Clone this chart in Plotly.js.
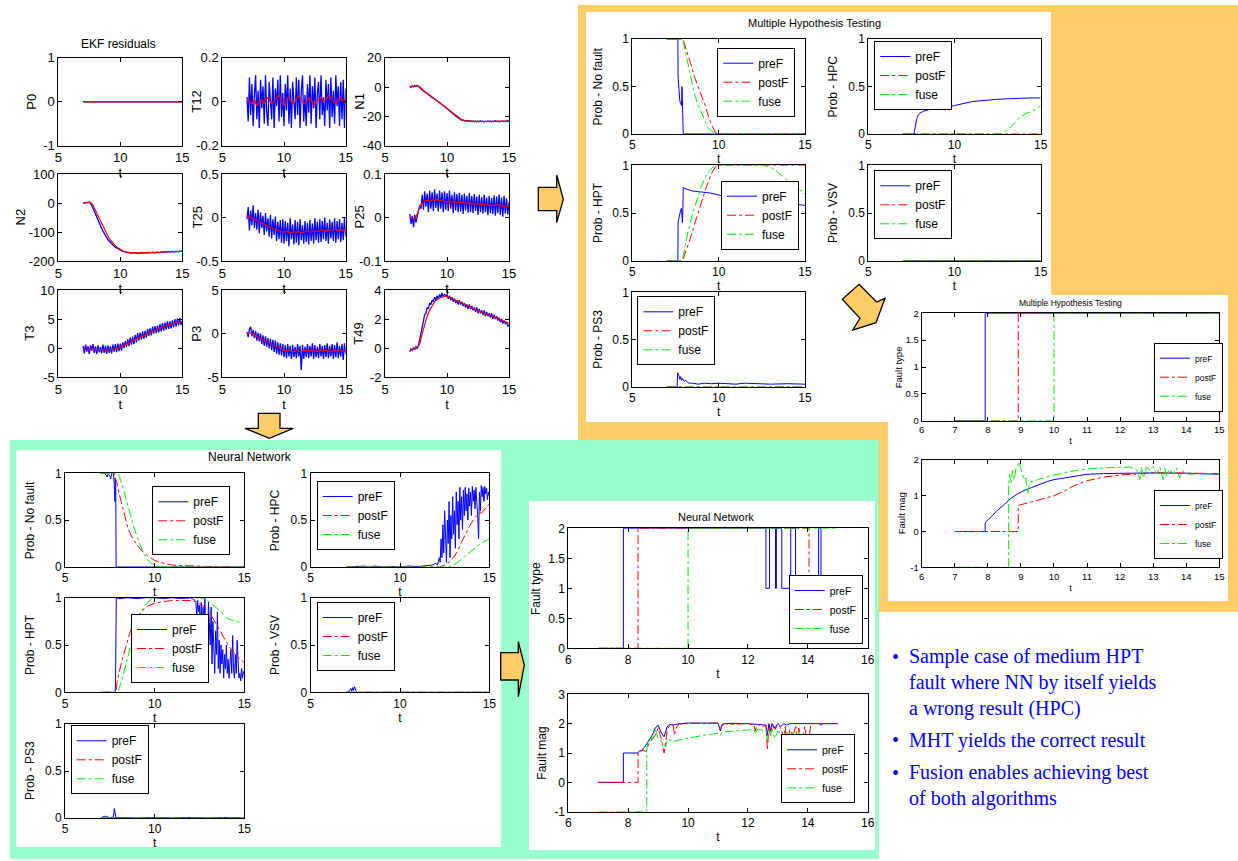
<!DOCTYPE html>
<html><head><meta charset="utf-8">
<script src="https://cdn.plot.ly/plotly-3.0.1.min.js"></script>
<style>html,body{margin:0;padding:0;background:#fff;}#chart{width:1238px;height:861px;}</style>
</head><body><div id="chart"></div>
<script>
// ---------------- DATA ----------------
// EKF residual time grids
const tE=[7,7.1,7.2,7.3,7.4,7.5,7.6,7.7,7.8,7.9,8,8.1,8.2,8.3,8.4,8.5,8.6,8.7,8.8,8.9,9,9.1,9.2,9.3,9.4,9.5,9.6,9.7,9.8,9.9,10,10.1,10.2,10.3,10.4,10.5,10.6,10.7,10.8,10.9,11,11.1,11.2,11.3,11.4,11.5,11.6,11.7,11.8,11.9,12,12.1,12.2,12.3,12.4,12.5,12.6,12.7,12.8,12.9,13,13.1,13.2,13.3,13.4,13.5,13.6,13.7,13.8,13.9,14,14.1,14.2,14.3,14.4,14.5,14.6,14.7,14.8,14.9,15];
const tC=[7,7.2,7.4,7.6,7.8,8,8.2,8.4,8.6,8.8,9,9.2,9.4,9.6,9.8,10,10.2,10.4,10.6,10.8,11,11.2,11.4,11.6,11.8,12,12.2,12.4,12.6,12.8,13,13.2,13.4,13.6,13.8,14,14.2,14.4,14.6,14.8,15];
const tLine=[7,15];
const zeroLine=[0,0];

const P0_raw=[0,0], P0_filt=[0,0];
const T12_raw=[0.02,-0.09,0.11,-0.06,0.08,-0.11,0.03,0.12,-0.08,0.05,-0.12,0.10,-0.03,0.07,-0.10,0.12,-0.05,-0.11,0.09,0.01,-0.08,0.11,-0.12,0.06,-0.02,0.10,-0.09,0.12,-0.07,0.04,-0.11,0.08,-0.04,0.12,-0.10,0.06,-0.12,0.09,0.02,-0.08,0.11,-0.06,0.10,-0.12,0.05,0.12,-0.09,0.03,-0.11,0.08,-0.05,0.12,-0.10,0.07,-0.03,0.11,-0.12,0.04,0.09,-0.08,0.12,-0.06,0.02,-0.11,0.10,-0.04,0.08,-0.12,0.11,-0.07,0.05,-0.10,0.12,-0.02,0.07,-0.11,0.09,-0.08,0.10,-0.12,0.06];
const T12_filt=[0.02,0.0,-0.01,0.01,-0.02,0.0,0.01,-0.01,0.02,0.01,-0.01,0.0,0.02,0.03,0.0,-0.02,0.01,0.02,0.0,-0.01,0.01,0.03,0.01,-0.01,0.0,0.02,0.01,-0.02,0.0,0.01,0.02,0.0,0.01,0.03,0.02,0.0,-0.01,0.01,0.02,0.0,0.01];
const N1_raw=[0.3,-0.4,0.8,0.2,1.0,0.5,1.2,0.6,-0.3,-1.2,-2.0,-2.4,-3.3,-3.8,-4.6,-5.0,-5.9,-6.3,-7.2,-7.5,-8.3,-8.9,-9.4,-10.2,-10.6,-11.5,-12.0,-12.8,-13.3,-14.1,-14.6,-15.5,-16.0,-16.9,-17.5,-18.4,-19.0,-19.8,-20.5,-21.0,-21.8,-22.1,-22.7,-22.4,-23.1,-22.8,-23.4,-22.9,-23.5,-23.0,-23.6,-23.1,-23.7,-23.2,-23.8,-23.3,-23.6,-23.0,-23.7,-23.2,-23.8,-23.3,-23.6,-23.1,-23.7,-23.2,-23.8,-23.3,-23.6,-23.0,-23.7,-23.2,-23.8,-23.3,-23.6,-23.1,-23.7,-23.2,-23.5,-22.9,-23.3];
const N1_filt=[0.3,0.5,0.7,0.8,0.2,-1.6,-3.0,-4.3,-5.6,-6.9,-8.1,-9.3,-10.5,-11.8,-13.1,-14.4,-15.8,-17.2,-18.6,-20.0,-21.3,-22.3,-22.9,-23.2,-23.3,-23.4,-23.4,-23.5,-23.4,-23.5,-23.4,-23.5,-23.4,-23.4,-23.5,-23.4,-23.3,-23.4,-23.4,-23.3,-23.3];
const N2_raw=[0,1,2,3,2,3,-1,-8,-18,-28,-39,-49,-60,-70,-79,-88,-97,-105,-113,-120,-126,-131,-136,-141,-145,-149,-152,-155,-158,-161,-163,-165,-167,-168,-170,-170,-171,-172,-171,-173,-172,-171,-173,-172,-174,-172,-173,-171,-173,-172,-171,-173,-172,-170,-172,-171,-170,-172,-170,-171,-169,-170,-171,-169,-170,-168,-170,-168,-169,-167,-169,-168,-167,-169,-167,-168,-166,-168,-166,-167,-166];
const N2_filt=[0,1,2,2,-8,-26,-45,-64,-82,-99,-114,-127,-138,-147,-154,-160,-165,-168,-170,-171,-172,-172,-173,-173,-172,-172,-172,-171,-171,-170,-170,-170,-169,-169,-168,-168,-168,-167,-167,-167,-166];
const T25_raw=[-0.02,0.12,-0.15,0.08,-0.09,0.14,-0.12,0.05,-0.14,0.09,-0.18,0.06,-0.12,0.02,-0.20,0.05,-0.16,-0.01,-0.22,0.03,-0.24,-0.02,-0.20,0.01,-0.27,-0.05,-0.25,-0.03,-0.29,-0.02,-0.30,-0.04,-0.27,-0.06,-0.33,-0.01,-0.25,-0.08,-0.31,-0.03,-0.29,-0.05,-0.32,-0.02,-0.26,-0.09,-0.30,-0.04,-0.28,-0.06,-0.31,-0.03,-0.27,-0.07,-0.30,-0.01,-0.26,-0.05,-0.29,-0.02,-0.28,-0.04,-0.25,0.00,-0.27,-0.06,-0.30,-0.02,-0.24,-0.05,-0.27,-0.01,-0.29,-0.04,-0.25,-0.02,-0.28,-0.06,-0.26,0.00,-0.22];
const T25_filt=[0.0,0.02,-0.01,-0.02,-0.03,-0.05,-0.06,-0.08,-0.09,-0.11,-0.12,-0.13,-0.14,-0.15,-0.16,-0.17,-0.16,-0.17,-0.18,-0.16,-0.17,-0.16,-0.18,-0.17,-0.16,-0.15,-0.17,-0.16,-0.15,-0.16,-0.14,-0.15,-0.16,-0.14,-0.15,-0.14,-0.13,-0.15,-0.14,-0.15,-0.14];
const P25_raw=[0.008,-0.015,0.004,-0.022,0.006,-0.012,0.002,0.015,0.028,0.020,0.052,0.018,0.060,0.025,0.055,0.012,0.062,0.020,0.058,0.015,0.065,0.022,0.055,0.014,0.062,0.020,0.058,0.012,0.060,0.018,0.056,0.015,0.062,0.020,0.052,0.010,0.058,0.016,0.054,0.012,0.057,0.014,0.052,0.008,0.055,0.016,0.050,0.011,0.056,0.013,0.050,0.010,0.054,0.015,0.048,0.006,0.052,0.012,0.047,0.009,0.052,0.012,0.046,0.005,0.050,0.010,0.045,0.008,0.051,0.004,0.048,0.010,0.053,0.006,0.046,0.002,0.050,0.009,0.044,0.007,0.035];
const P25_filt=[0.0,-0.002,-0.003,0.008,0.024,0.033,0.038,0.040,0.037,0.041,0.039,0.042,0.038,0.040,0.037,0.036,0.039,0.035,0.037,0.034,0.036,0.033,0.035,0.032,0.034,0.031,0.033,0.030,0.032,0.029,0.031,0.028,0.030,0.027,0.029,0.028,0.030,0.026,0.028,0.025,0.027];
const T3_raw=[0.4,-0.9,0.6,-0.6,0.3,-1.0,0.5,-0.4,0.7,-0.8,0.3,-1.0,0.5,-0.7,0.2,-0.9,0.6,-0.8,0.4,-1.0,0.5,-0.8,0.3,-0.9,0.6,-0.6,0.7,-0.7,0.8,-0.5,0.8,-0.4,1.0,0.0,1.2,0.2,1.5,0.4,1.8,0.6,2.0,0.7,2.3,1.0,2.6,1.3,2.7,1.5,2.9,1.6,3.0,1.8,3.3,2.1,3.4,2.2,3.7,2.5,3.8,2.6,3.9,2.7,4.2,2.9,4.3,3.0,4.4,3.2,4.6,3.3,4.6,3.4,4.8,3.6,5.0,3.7,5.1,3.9,5.2,4.0,4.6];
const T3_filt=[-0.2,-0.1,-0.3,-0.2,-0.1,-0.3,-0.2,-0.3,-0.2,-0.4,-0.2,-0.3,-0.1,-0.2,0.0,0.1,0.3,0.5,0.7,1.0,1.3,1.5,1.8,2.0,2.2,2.4,2.6,2.8,3.0,3.1,3.3,3.5,3.6,3.8,3.9,4.0,4.2,4.3,4.4,4.5,4.6];
const P3_raw=[0.2,-0.4,0.5,0.8,-0.3,0.4,-0.5,0.3,-0.8,0.1,-0.9,0.0,-1.2,-0.2,-1.4,-0.3,-1.5,-0.5,-1.7,-0.6,-1.9,-0.7,-2.1,-0.8,-2.3,-1.0,-2.4,-1.1,-2.5,-1.2,-2.7,-1.3,-2.8,-1.2,-2.6,-1.4,-2.9,-1.3,-2.7,-1.5,-2.8,-1.2,-2.6,-1.4,-4.2,-1.3,-2.9,-1.5,-2.7,-1.2,-2.8,-1.4,-2.6,-1.1,-2.9,-1.3,-2.7,-1.5,-2.8,-1.2,-2.6,-1.4,-2.9,-1.3,-2.7,-1.1,-2.8,-1.4,-2.6,-1.2,-2.9,-1.3,-2.7,-1.0,-2.8,-1.4,-2.6,-1.2,-3.0,-1.1,-2.3];
const P3_filt=[0,0.1,0.0,-0.1,-0.3,-0.5,-0.6,-0.8,-0.9,-1.1,-1.2,-1.4,-1.5,-1.6,-1.8,-1.9,-2.0,-1.9,-2.0,-2.1,-1.9,-2.0,-2.1,-1.9,-2.0,-1.9,-2.0,-1.9,-2.1,-2.0,-1.9,-2.0,-1.9,-2.0,-2.1,-1.9,-2.0,-1.9,-2.0,-2.0,-1.9];
const T49_raw=[-0.25,-0.05,-0.15,0.05,-0.1,0.1,0.0,0.2,0.6,1.1,1.6,1.9,2.3,2.4,2.8,2.7,3.1,3.0,3.3,3.2,3.5,3.3,3.6,3.4,3.7,3.5,3.8,3.5,3.7,3.6,3.7,3.4,3.6,3.3,3.5,3.2,3.4,3.1,3.3,3.0,3.3,3.0,3.2,2.9,3.1,2.8,3.0,2.7,3.0,2.7,2.9,2.6,2.8,2.5,2.8,2.4,2.7,2.4,2.6,2.3,2.6,2.2,2.5,2.2,2.4,2.1,2.4,2.0,2.3,2.0,2.2,1.9,2.1,1.8,2.0,1.7,1.9,1.7,1.8,1.5,1.6];
const T49_filt=[-0.2,-0.1,0.0,0.0,0.3,1.0,1.7,2.2,2.6,2.95,3.2,3.35,3.45,3.55,3.6,3.55,3.5,3.4,3.35,3.25,3.15,3.1,3.0,2.95,2.85,2.75,2.7,2.6,2.55,2.45,2.4,2.35,2.25,2.2,2.15,2.05,2.0,1.9,1.85,1.75,1.7];

// Multiple Hypothesis Testing probabilities
const mNF_pre_t=[7,7.64,7.65,7.7,7.75,7.8,7.85,7.88,7.9,7.92,7.94,7.95,15];
const mNF_pre_y=[1,1,0.6,0.4,0.35,0.32,0.3,0.5,0.32,0.3,0.3,0,0];
const mNF_post_t=[7,7.95,8.0,8.2,8.4,8.6,8.8,9.0,9.2,9.4,9.6,9.8,10,15];
const mNF_post_y=[1,1,0.96,0.85,0.73,0.6,0.5,0.42,0.31,0.19,0.09,0.02,0,0];
const mNF_fuse_t=[7,7.95,8.0,8.2,8.4,8.6,8.8,9.0,9.2,9.4,9.6,9.8,10,15];
const mNF_fuse_y=[1,1,0.93,0.76,0.58,0.42,0.31,0.22,0.13,0.06,0.03,0.01,0,0];
const mHPC_pre_t=[7,7.65,7.68,7.72,7.76,7.8,7.85,7.9,8.0,8.2,8.4,8.6,8.75,9.0,9.5,10,10.5,11,11.5,12,12.5,13,13.5,14,14.5,15];
const mHPC_pre_y=[0,0,0.03,0.08,0.09,0.15,0.18,0.2,0.22,0.24,0.25,0.26,null,0.27,0.28,0.3,0.32,0.34,0.35,0.36,0.365,0.37,0.375,0.38,0.38,0.38];
const mHPC_fuse_t=[7,12.5,12.8,13.0,13.3,13.6,13.9,14.2,14.5,14.8,15];
const mHPC_fuse_y=[0,0,0.01,0.04,0.08,0.14,0.19,0.22,0.24,0.27,0.3];
const mHPT_pre_t=[7,7.64,7.65,7.7,7.75,7.8,7.85,7.88,7.9,7.93,7.95,8.0,8.2,8.5,9.0,9.5,10,10.5,11,11.5,12,12.5,13,13.5,14,14.5,15];
const mHPT_pre_y=[0,0,0.4,0.45,0.5,0.53,0.55,0.5,0.4,0.55,0.77,0.76,0.75,0.73,0.72,0.71,0.69,0.66,0.64,0.62,0.61,0.6,0.6,0.59,0.59,0.59,0.58];
const mHPT_post_t=[7,7.95,8.0,8.3,8.6,9.0,9.3,9.6,9.8,10,15];
const mHPT_post_y=[0,0,0.05,0.2,0.38,0.62,0.78,0.92,0.98,1,1];
const mHPT_fuse_t=[7,7.9,8.0,8.2,8.5,8.8,9.0,9.3,9.6,9.8,12.5,12.8,13.1,13.4,13.7,14.0,14.3,14.6,15];
const mHPT_fuse_y=[0,0,0.1,0.28,0.5,0.68,0.78,0.9,0.97,1,1,0.99,0.97,0.93,0.88,0.84,0.8,0.76,0.7];
const mPS3_pre_t=[7,7.6,7.62,7.7,7.75,7.8,7.85,7.9,8.0,8.1,8.2,8.3,8.5,8.8,9.2,9.6,10,10.5,11,11.5,12,13,14,15];
const mPS3_pre_y=[0,0,0.15,0.12,0.08,0.11,0.07,0.09,0.06,0.07,0.05,0.04,0.04,0.03,0.04,0.035,0.04,0.035,0.03,0.04,0.035,0.03,0.035,0.03];

// MHT fault type / magnitude
const mFT_pre_t=[7,7.92,7.92,15], mFT_pre_y=[0,0,2,2];
const mFT_post_t=[7,8.92,8.92,15], mFT_post_y=[0,0,2,2];
const mFT_fuse_t=[7,10,10,15], mFT_fuse_y=[0,0,2,2];
const mFM_pre_t=[7,7.92,7.92,8.1,8.3,8.5,8.7,8.9,9.1,9.3,9.5,9.8,10.0,10.3,10.6,11,11.5,12,12.5,13,14,15];
const mFM_pre_y=[0,0,0.25,0.42,0.6,0.76,0.93,1.05,1.15,1.22,1.3,1.4,1.45,1.5,1.55,1.6,1.62,1.63,1.64,1.64,1.63,1.6];
const mFM_post_t=[7,8.92,8.92,9.2,9.5,9.8,10.0,10.3,10.6,11,11.5,12,12.5,13,13.5,14,15];
const mFM_post_y=[0,0,0.73,0.8,0.87,0.95,1.0,1.13,1.28,1.42,1.52,1.58,1.62,1.64,1.64,1.63,1.62];
const mFM_fuse_t=[7,8.63,8.63,8.66,8.7,8.75,8.8,8.85,8.9,8.95,9.0,9.05,9.1,9.15,9.2,9.25,9.3,9.4,9.5,9.7,10,10.5,11,11.5,12,12.3,12.5,12.6,12.65,12.7,12.8,12.9,13.0,13.1,13.2,13.3,13.35,13.4,13.5,13.6,13.7,13.8,13.9,14.0,14.1,14.5,15];
const mFM_fuse_y=[-1,-1,1.3,1.6,1.35,1.7,1.45,1.75,1.85,1.95,1.75,1.6,1.45,1.5,1.05,1.3,1.4,1.38,1.45,1.5,1.58,1.68,1.75,1.78,1.78,1.8,1.72,1.45,1.8,1.5,1.8,1.72,1.82,1.6,1.8,1.45,1.78,1.55,1.75,1.6,1.78,1.5,1.7,1.62,1.6,1.62,1.6];

// Neural network probabilities
const nNF_pre_t=[7,7.2,7.3,7.35,7.4,7.5,7.55,7.6,7.7,7.75,7.78,7.8,7.83,7.85,15];
const nNF_pre_y=[1,1,0.98,0.96,0.99,0.97,0.94,1,0.99,0.88,0.7,0.95,0.9,0,0];
const nNF_post_t=[7,7.75,7.8,7.9,8.0,8.1,8.2,8.35,8.5,8.7,9.0,9.3,9.6,10,10.5,11,11.5,12,13,14,15];
const nNF_post_y=[1,1,0.95,0.9,0.8,0.72,0.63,0.52,0.42,0.33,0.24,0.17,0.12,0.07,0.04,0.02,0.015,0.01,0.005,0,0];
const nNF_fuse_t=[7,7.95,8.0,8.1,8.2,8.4,8.6,8.8,9.0,9.2,9.4,9.6,9.8,10.0,10.3,10.6,15];
const nNF_fuse_y=[1,1,0.98,0.93,0.87,0.73,0.58,0.45,0.33,0.23,0.14,0.08,0.04,0.02,0.005,0,0];
const nHPC_pre_t=[7,7.5,8.0,8.3,8.6,9,9.5,10,10.5,11,11.5,11.8,12.0,12.1,12.2,12.25,12.3,12.35,12.4,12.45,12.5,12.55,12.6,12.65,12.7,12.75,12.8,12.85,12.9,12.95,13.0,13.05,13.1,13.15,13.2,13.25,13.3,13.35,13.4,13.45,13.5,13.55,13.6,13.65,13.7,13.75,13.8,13.85,13.9,13.95,14.0,14.05,14.1,14.15,14.2,14.25,14.3,14.35,14.4,14.45,14.5,14.55,14.6,14.65,14.7,14.75,14.8,14.85,14.9,14.95,15];
const nHPC_pre_y=[0,0.005,0.01,0.0,0.01,0,0.005,0,0.01,0.005,0.01,0.02,0.04,0.02,0.1,0.05,0.3,0.1,0.45,0.15,0.6,0.2,0.05,0.5,0.25,0.7,0.1,0.55,0.3,0.75,0.35,0.6,0.2,0.8,0.45,0.7,0.3,0.85,0.5,0.75,0.4,0.82,0.55,0.85,0.6,0.78,0.5,0.84,0.65,0.8,0.55,0.86,0.7,0.82,0.62,0.85,0.72,0.55,0.3,0.8,0.6,0.87,0.75,0.85,0.7,0.86,0.78,0.84,0.72,0.8,0.76];
const nHPC_post_t=[7,12.2,12.5,12.8,13.0,13.2,13.4,13.6,13.8,14.0,14.2,14.4,14.6,14.8,15];
const nHPC_post_y=[0,0,0.02,0.06,0.1,0.16,0.25,0.33,0.4,0.47,0.53,0.57,0.58,0.63,0.68];
const nHPC_fuse_t=[7,12.7,13.0,13.3,13.6,13.9,14.2,14.5,14.8,15];
const nHPC_fuse_y=[0,0,0.02,0.06,0.11,0.16,0.21,0.25,0.28,0.3];
const nHPT_pre_t=[7,7.8,7.82,7.84,7.86,8,8.5,9,9.5,10,10.5,11,11.5,12,12.2,12.3,12.35,12.4,12.45,12.5,12.55,12.6,12.65,12.7,12.75,12.8,12.85,12.9,12.95,13.0,13.05,13.1,13.15,13.2,13.25,13.3,13.35,13.4,13.45,13.5,13.55,13.6,13.65,13.7,13.75,13.8,13.85,13.9,13.95,14.0,14.05,14.1,14.15,14.2,14.25,14.3,14.35,14.4,14.45,14.5,14.55,14.6,14.65,14.7,14.75,14.8,14.85,14.9,14.95,15];
const nHPT_pre_y=[0,0,0.15,0.9,1,0.99,1,0.99,1,1,0.99,1,0.99,1,0.98,0.95,0.8,0.97,0.85,0.92,0.6,0.95,0.45,0.9,0.7,1,0.55,0.8,0.35,0.95,0.6,0.5,0.9,0.3,0.75,0.45,0.2,0.65,0.4,0.85,0.25,0.55,0.2,0.5,0.3,0.45,0.15,0.4,0.25,0.5,0.2,0.35,0.15,0.3,0.45,0.2,0.6,0.25,0.15,0.4,0.2,0.55,0.3,0.15,0.2,0.12,0.25,0.15,0.22,0.2];
const nHPT_post_t=[7,7.85,7.9,8.0,8.2,8.4,8.6,8.8,9.0,9.3,9.6,10,10.5,11,11.5,12,12.3,12.6,12.9,13.2,13.5,13.8,14.1,14.4,14.7,15];
const nHPT_post_y=[0,0,0.1,0.2,0.35,0.5,0.62,0.72,0.79,0.86,0.91,0.94,0.96,0.97,0.97,0.97,0.96,0.93,0.88,0.8,0.7,0.6,0.5,0.42,0.37,0.31];
const nHPT_fuse_t=[7,7.9,8.0,8.2,8.4,8.6,8.8,9.0,9.2,9.4,9.6,9.8,10,12.5,12.8,13.0,13.2,13.4,13.6,13.8,14.0,14.2,14.4,14.6,14.7];
const nHPT_fuse_y=[0,0,0.03,0.15,0.3,0.45,0.6,0.73,0.83,0.9,0.95,0.98,1,1,0.99,0.96,0.93,0.9,0.87,0.83,0.79,0.77,0.76,0.75,0.74];
const nVSV_pre_t=[7,7.1,7.2,7.25,7.3,7.35,7.4,7.45,7.5,7.55,7.6,8,9,10,11,12,13,14,15];
const nVSV_pre_y=[0,0.01,0.02,0.04,0.01,0.05,0.02,0.06,0.03,0.01,0,0,0.005,0,0.005,0,0.005,0,0];
const nPS3_pre_t=[7,7.2,7.25,7.3,7.5,7.7,7.75,7.8,7.85,8,9,10,11,12,13,14,15];
const nPS3_pre_y=[0,0.02,0.01,0.02,0,0.01,0.1,0.02,0,0.005,0,0.005,0,0.005,0,0.005,0];

// Neural network fault type / magnitude
const nFT_pre_t=[7,7.84,7.84,12.6,12.6,12.72,12.72,12.92,12.92,12.95,12.95,13.13,13.13,13.43,13.43,13.59,13.59,14.36,14.36,14.44,14.44,15];
const nFT_pre_y=[0,0,2,2,1,1,2,2,1,1,2,2,1,1,2,2,1,1,2,2,1,1];
const nFT_post_t=[7,8.33,8.33,14.04,14.04,15], nFT_post_y=[0,0,2,2,1,1];
const nFT_fuse_t=[7,10,10,15], nFT_fuse_y=[0,0,2,2];
const nFM_pre_t=[7,7.84,7.84,8.33,8.35,8.45,8.55,8.62,8.7,8.8,8.9,9.0,9.1,9.2,9.3,9.4,9.5,9.6,9.7,9.8,10,10.5,11,11.08,11.12,11.2,11.5,12,12.3,12.6,12.65,12.7,12.75,12.8,12.9,13,13.1,13.2,13.3,13.4,13.5,13.6,14,14.4,14.42,14.5,15];
const nFM_pre_y=[0,0,1,1,1.05,1.1,1.2,1.3,1.45,1.6,1.85,1.95,1.7,1.55,1.9,1.97,1.95,1.98,2,2,2.02,2.02,2.02,1.75,1.95,2,2.01,2,1.98,1.95,1.6,2.0,1.75,2.0,1.85,2,1.9,2,1.95,2,2,2,2,2,1.95,2,2];
const nFM_post_t=[7,8.33,8.33,8.4,8.5,8.6,8.65,8.7,8.8,8.9,9.0,9.1,9.2,9.25,9.3,9.4,9.5,9.55,9.6,9.7,9.8,10,10.5,11,11.08,11.12,11.2,11.5,12,12.2,12.25,12.3,12.5,12.6,12.65,12.7,12.75,12.8,12.9,13.0,13.1,13.2,13.25,13.3,13.4,13.5,13.6,13.65,13.7,13.8,13.85,13.9,14.0,14.05,14.1,15];
const nFM_post_y=[0,0,1,1.05,1.1,1.05,1.2,1.35,1.45,1.6,1.85,1.5,1.0,1.3,1.8,1.95,1.95,1.6,1.85,2,1.98,2.02,2.0,2.02,1.8,1.9,2,1.98,2,1.95,1.75,1.98,1.9,1.95,1.1,1.9,1.6,1.95,1.8,1.95,1.85,1.5,1.9,1.1,1.8,1.6,1.9,1.3,1.85,1.1,1.7,1.9,1.1,1.5,2,2];
const nFM_fuse_t=[7,8.62,8.62,8.65,8.7,8.75,8.8,8.85,8.9,8.95,9.0,9.1,9.2,9.25,9.3,9.4,9.5,9.6,9.8,10,10.5,11,11.08,11.12,11.2,11.5,12,12.2,12.25,12.3,12.5,12.6,12.65,12.7,12.75,12.8,12.9,13.0,13.1,13.2,13.3,13.4,13.5,13.6,13.7,13.8,13.9,14.0,14.05,14.1,14.5,15];
const nFM_fuse_y=[-1,-1,1.1,1.3,1.45,1.35,1.55,1.5,1.85,1.7,1.5,1.4,1.3,1.2,1.45,1.45,1.38,1.42,1.45,1.5,1.6,1.67,1.6,1.7,1.72,1.75,1.78,1.8,1.65,1.8,1.78,1.75,1.45,1.78,1.6,1.8,1.5,1.75,1.65,1.4,1.75,1.5,1.7,1.45,1.72,1.55,1.7,1.5,1.6,1.6,1.6,1.6];

// Tick labels
const ticksX5_15=[5,10,15];
const ticksX6_15=[6,7,8,9,10,11,12,13,14,15];
const ticksX6_16=[6,8,10,12,14,16];
const ticksProb=[0,0.5,1];
const ticksType=[0,0.5,1,1.5,2];
const ticksMagM=[-1,0,1,2];
const ticksMagN=[-1,0,1,2,3];
const ticksP0=[-1,0,1], ticksT12=[-0.2,0,0.2], ticksN1=[-40,-20,0,20], ticksN2=[-200,-100,0,100];
const ticksT25=[-0.5,0,0.5], ticksP25=[-0.1,0,0.1], ticksT3=[-5,0,5,10], ticksP3=[-5,0,5], ticksT49=[-2,0,2,4];
const seriesNames=['preF','postF','fuse'];
const bullets=['Sample case of medium HPT<br>fault where NN by itself yields<br>a wrong result (HPC)','MHT yields the correct result','Fusion enables achieving best<br>of both algorithms'];

// ---------------- BUILD ----------------
const W=1238,H=861;
const FONT='Liberation Sans, Arial, Helvetica, sans-serif';
const px=x=>x/W, py=y=>1-y/H;
const layout={width:W,height:H,margin:{l:0,r:0,t:0,b:0,pad:0},paper_bgcolor:'#ffffff',plot_bgcolor:'rgba(0,0,0,0)',
  hovermode:false,showlegend:true,font:{family:FONT,color:'#000'},shapes:[],annotations:[]};
const traces=[];
let axN=0, legN=0;
function text(x,y,t,size,opts){layout.annotations.push(Object.assign({xref:'paper',yref:'paper',x:px(x),y:py(y),text:t,showarrow:false,
  xanchor:'center',yanchor:'middle',font:{size:size,family:FONT,color:'#000'}},opts||{}));}
function addPlot(box,xr,xt,yr,yt,yTitle,yTitleX,fs,tfs,xs){
  axN++;
  const s=axN===1?'':String(axN);
  const common={showline:true,linecolor:'#000',linewidth:1,mirror:'ticks',ticks:'inside',ticklen:4,tickcolor:'#000',
    showgrid:false,zeroline:false,fixedrange:true,tickfont:{size:fs,family:FONT,color:'#000'},tickmode:'array',automargin:false};
  layout['xaxis'+s]=Object.assign({},common,{domain:[px(box[0]),px(box[1])],anchor:'y'+s,range:xr,tickvals:xt,ticktext:xt.map(String),
    title:{text:'t',font:{size:tfs,family:FONT,color:'#000'},standoff:xs}});
  layout['yaxis'+s]=Object.assign({},common,{domain:[py(box[3]),py(box[2])],anchor:'x'+s,range:yr,tickvals:yt,ticktext:yt.map(String)});
  text(yTitleX,(box[2]+box[3])/2,yTitle,tfs,{textangle:-90});
  return {x:'x'+s,y:'y'+s};
}
function addLegend(left,yv,anchor,fs){
  legN++;
  const key=legN===1?'legend':'legend'+legN;
  layout[key]={x:px(left),y:py(yv),xanchor:'left',yanchor:anchor,bgcolor:'#ffffff',bordercolor:'#000',borderwidth:1,
    font:{size:fs,family:FONT,color:'#000'},itemwidth:30,tracegroupgap:0,traceorder:'normal'};
  return key;
}
const DASH='9px,3px,3px,3px';
const STY={pre:{c:'#0000ff',d:'solid',n:seriesNames[0]},post:{c:'#ff0000',d:DASH,n:seriesNames[1]},fuse:{c:'#00ee00',d:DASH,n:seriesNames[2]},
  raw:{c:'#0000ff',d:'solid',n:'raw'},filt:{c:'#ff0000',d:'solid',n:'filtered'}};
function line(ax,x,y,kind,leg,w){
  const s=STY[kind];
  const tr={type:'scatter',mode:'lines',x:x,y:y,xaxis:ax.x,yaxis:ax.y,name:s.n,line:{color:s.c,width:w||1,dash:s.d},
    showlegend:!!leg,hoverinfo:'skip',connectgaps:false};
  if(leg) tr.legend=leg;
  traces.push(tr);
}
function rect(x0,y0,x1,y1,fill){layout.shapes.push({type:'rect',xref:'paper',yref:'paper',x0:px(x0),x1:px(x1),y0:py(y1),y1:py(y0),fillcolor:fill,line:{width:0},layer:'below'});}
function arrow(pts){layout.shapes.push({type:'path',xref:'paper',yref:'paper',layer:'below',fillcolor:'#FFCC66',line:{color:'#000',width:1.3},
  path:'M'+pts.map(p=>px(p[0]).toFixed(5)+','+py(p[1]).toFixed(5)).join(' L')+' Z'});}

// backgrounds
rect(578,5,1238,612,'#FFCC66');
rect(10,440,879,859,'#99FFCC');
rect(586,12,1051,422,'#ffffff');
rect(888,295,1228,601,'#ffffff');
rect(16,450,501,847,'#ffffff');
rect(529,501,875,850,'#ffffff');
// arrows
arrow([[538.3,187.3],[556.7,187.3],[556.7,175],[563.3,199.3],[556.7,222.7],[556.7,210.7],[538.3,210.7]]);
arrow([[258.3,413.3],[280,413.3],[280,428.3],[293.3,428.3],[269.3,438.3],[245,428.3],[258.3,428.3]]);
arrow([[500.7,652.7],[518.3,652.7],[518.3,641.7],[524.3,665],[518.3,696.7],[518.3,680],[500.7,680]]);
arrow([[859,284.3],[876.7,302],[885,298.3],[876,322.7],[852.7,330],[860,318.3],[842.3,299.3]]);

// ---- EKF residuals ----
const EC=[[58.3,182.3],[222.3,345.7],[385,509]], ER=[[57.7,145.7],[174,261],[290,377.3]];
const ekfTitleX=[32,197,360,20,197,359,30,197,359];
const ekf=[['P0',P0_raw,P0_filt,ticksP0,tLine],['T12',T12_raw,T12_filt,ticksT12],['N1',N1_raw,N1_filt,ticksN1],
  ['N2',N2_raw,N2_filt,ticksN2],['T25',T25_raw,T25_filt,ticksT25],['P25',P25_raw,P25_filt,ticksP25],
  ['T3',T3_raw,T3_filt,ticksT3],['P3',P3_raw,P3_filt,ticksP3],['T49',T49_raw,T49_filt,ticksT49]];
ekf.forEach((e,i)=>{
  const c=EC[i%3], r=ER[Math.floor(i/3)];
  const yt=e[3];
  const ax=addPlot([c[0],c[1],r[0],r[1]],[5,15],ticksX5_15,[yt[0],yt[yt.length-1]],yt,e[0],ekfTitleX[i],13,13,3);
  if(e[4]){line(ax,tLine,e[1],'raw',null,1.5);line(ax,tLine,e[2],'filt',null,1.5);}
  else{line(ax,tE,e[1],'raw',null,1.3);line(ax,tC,e[2],'filt',null,1.2);}
});
text(118.8,44,'EKF residuals',12);

// ---- MHT probabilities ----
const MC=[[632.3,805],[868.3,1040.7]], MR=[[39,134],[165.3,260.7],[292.3,387]];
function probPlot(c,r,name,tx,data,legPos,fs,lfs){
  const ax=addPlot([c[0],c[1],r[0],r[1]],[5,15],ticksX5_15,[0,1],ticksProb,name,tx,fs,fs,3);
  const leg=addLegend(legPos[0],legPos[1],legPos[2],lfs);
  line(ax,data[0],data[1],'pre',leg);line(ax,data[2],data[3],'post',leg);line(ax,data[4],data[5],'fuse',leg);
}
probPlot(MC[0],MR[0],'Prob - No fault',598,[mNF_pre_t,mNF_pre_y,mNF_post_t,mNF_post_y,mNF_fuse_t,mNF_fuse_y],[717.3,47.7,'top'],12,12);
probPlot(MC[1],MR[0],'Prob - HPC',833,[mHPC_pre_t,mHPC_pre_y,tLine,zeroLine,mHPC_fuse_t,mHPC_fuse_y],[874.3,41,'top'],12,12);
probPlot(MC[0],MR[1],'Prob - HPT',598,[mHPT_pre_t,mHPT_pre_y,mHPT_post_t,mHPT_post_y,mHPT_fuse_t,mHPT_fuse_y],[721,249.7,'bottom'],12,12);
probPlot(MC[1],MR[1],'Prob - VSV',833,[tLine,zeroLine,tLine,zeroLine,tLine,zeroLine],[874.3,170.3,'top'],12,12);
probPlot(MC[0],MR[2],'Prob - PS3',598,[mPS3_pre_t,mPS3_pre_y,tLine,zeroLine,tLine,zeroLine],[637.3,296.3,'top'],12,12);
text(814.7,22.7,'Multiple Hypothesis Testing',11);

// ---- MHT fault type / mag ----
function faultPlot(box,xr,xt,yr,yt,name,tx,data,legPos,fs,lfs){
  const ax=addPlot(box,xr,xt,yr,yt,name,tx,fs,fs,3);
  const leg=addLegend(legPos[0],legPos[1],'bottom',lfs);
  line(ax,data[0],data[1],'pre',leg);line(ax,data[2],data[3],'post',leg);line(ax,data[4],data[5],'fuse',leg);
}
faultPlot([921.7,1219.3,313.3,420.7],[6,15],ticksX6_15,[0,2],ticksType,'Fault type',898.3,[mFT_pre_t,mFT_pre_y,mFT_post_t,mFT_post_y,mFT_fuse_t,mFT_fuse_y],[1154,411.7],9.5,8.5);
faultPlot([921.7,1219.3,460,567.3],[6,15],ticksX6_15,[-1,2],ticksMagM,'Fault mag',901.7,[mFM_pre_t,mFM_pre_y,mFM_post_t,mFM_post_y,mFM_fuse_t,mFM_fuse_y],[1154,559],9.5,8.5);
text(1070,302.7,'Multiple Hypothesis Testing',8.5);

// ---- Neural network probabilities ----
const NC=[[65,244.3],[310.7,489.3]], NR=[[473.3,567],[597.7,692.3],[724,818]];
probPlot(NC[0],NR[0],'Prob - No fault',30,[nNF_pre_t,nNF_pre_y,nNF_post_t,nNF_post_y,nNF_fuse_t,nNF_fuse_y],[152.3,486.3,'top'],12,12);
probPlot(NC[1],NR[0],'Prob - HPC',275,[nHPC_pre_t,nHPC_pre_y,nHPC_post_t,nHPC_post_y,nHPC_fuse_t,nHPC_fuse_y],[316.7,481,'top'],12,12);
probPlot(NC[0],NR[1],'Prob - HPT',30,[nHPT_pre_t,nHPT_pre_y,nHPT_post_t,nHPT_post_y,nHPT_fuse_t,nHPT_fuse_y],[131,683,'bottom'],12,12);
probPlot(NC[1],NR[1],'Prob - VSV',275,[nVSV_pre_t,nVSV_pre_y,tLine,zeroLine,tLine,zeroLine],[316.7,602,'top'],12,12);
probPlot(NC[0],NR[2],'Prob - PS3',30,[nPS3_pre_t,nPS3_pre_y,tLine,zeroLine,tLine,zeroLine],[70.7,725.3,'top'],12,12);
text(250,456.7,'Neural Network',12);

// ---- Neural network fault type / mag ----
faultPlot([568.3,867.7,528.3,648.3],[6,16],ticksX6_16,[0,2],ticksType,'Fault type',536.7,[nFT_pre_t,nFT_pre_y,nFT_post_t,nFT_post_y,nFT_fuse_t,nFT_fuse_y],[788.7,644],12,10.5);
faultPlot([568.3,867.7,694.3,811.7],[6,16],ticksX6_16,[-1,3],ticksMagN,'Fault mag',541.7,[nFM_pre_t,nFM_pre_y,nFM_post_t,nFM_post_y,nFM_fuse_t,nFM_fuse_y],[781,803.3],12,10.5);
text(716,516.7,'Neural Network',11);

// ---- bullet text ----
const SERIF='Liberation Serif, Times New Roman, serif';
const bulletY=[[656.7,682.5],[740,740],[772.7,785.5]];
bullets.forEach((b,i)=>{
  text(895.5,bulletY[i][0],'•',20,{font:{size:20,family:SERIF,color:'#0000ff'}});
  text(906.7,bulletY[i][1],b,20,{xanchor:'left',align:'left',font:{size:20,family:SERIF,color:'#0000ff'}});
});

Plotly.newPlot('chart',traces,layout,{staticPlot:true,displayModeBar:false,responsive:false});
</script></body></html>
